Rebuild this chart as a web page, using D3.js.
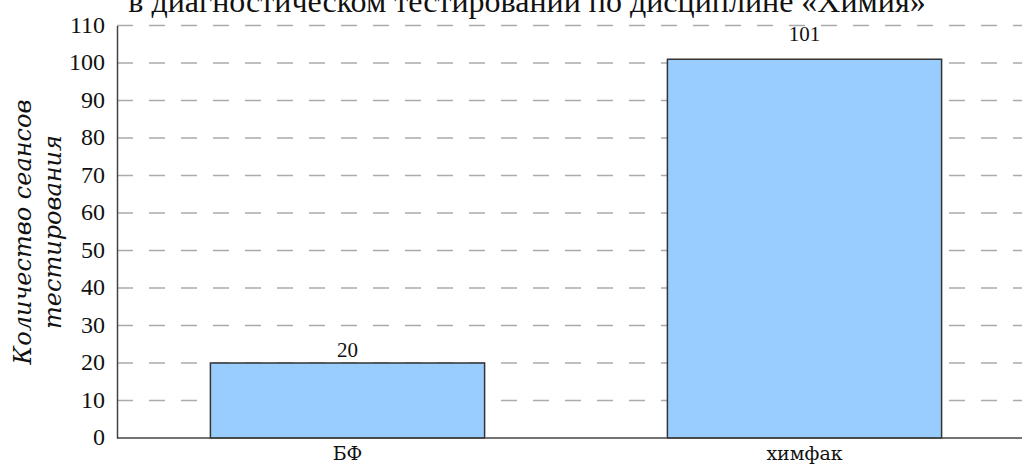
<!DOCTYPE html>
<html>
<head>
<meta charset="utf-8">
<script src="https://cdn.jsdelivr.net/npm/d3@7"></script>
<style>
  html, body { margin: 0; padding: 0; background: #fff; }
  svg { display: block; }
  text { font-family: "Liberation Serif", "DejaVu Serif", serif; fill: #111; }
</style>
</head>
<body>
<svg id="chart" width="1022" height="466"></svg>
<script>
const titleText = "в диагностическом тестировании по дисциплине «Химия»";
const yLabelLines = ["Количество сеансов", "тестирования"];
const categories = ["БФ", "химфак"];
const values = [20, 101];
const yTicks = [0, 10, 20, 30, 40, 50, 60, 70, 80, 90, 100, 110];

const svg = d3.select("#chart");
const W = 1022, H = 466;
const plotLeft = 117, plotBottom = 438, plotTop = 25.5;

const x = d3.scaleBand().domain(categories).range([119, 1033]).paddingInner(0.4).paddingOuter(0.2);
const y = d3.scaleLinear().domain([0, 110]).range([plotBottom, plotTop]);

// title (partly cut off at top, as in the reference)
svg.append("text")
  .attr("x", 527).attr("y", 12)
  .attr("text-anchor", "middle")
  .style("font-size", "32px")
  .text(titleText);

// grid lines
svg.append("g").selectAll("line").data(yTicks.filter(d => d > 0)).join("line")
  .attr("x1", plotLeft).attr("x2", W)
  .attr("y1", d => y(d)).attr("y2", d => y(d))
  .attr("stroke", "#aaa").attr("stroke-width", 1.5)
  .attr("stroke-dasharray", "16,16");

// bars
svg.append("g").selectAll("rect").data(categories).join("rect")
  .attr("x", d => x(d))
  .attr("y", (d, i) => y(values[i]))
  .attr("width", x.bandwidth())
  .attr("height", (d, i) => y(0) - y(values[i]))
  .attr("fill", "#99ccff")
  .attr("stroke", "#333")
  .attr("stroke-width", 1.5);

// value labels
svg.append("g").selectAll("text").data(categories).join("text")
  .attr("x", d => x(d) + x.bandwidth() / 2)
  .attr("y", (d, i) => y(values[i] * 1.04) - 3)
  .attr("text-anchor", "middle")
  .style("font-size", "21px")
  .text((d, i) => values[i]);

// y axis
const yAxis = d3.axisLeft(y).tickValues(yTicks).tickSize(0).tickPadding(12);
const gy = svg.append("g").attr("transform", `translate(${plotLeft},0)`).call(yAxis);
gy.select(".domain").attr("stroke", "#444").attr("stroke-width", 1.5);
gy.selectAll("text").style("font-size", "24px").style("font-family", "Liberation Serif").attr("fill", "#111").attr("dy", "0.28em");

// x axis
const xAxis = d3.axisBottom(x).tickSize(0).tickPadding(0);
const gx = svg.append("g").attr("transform", `translate(0,${plotBottom})`).call(xAxis);
gx.select(".domain").attr("d", `M${plotLeft},0H${W}`).attr("stroke", "#444").attr("stroke-width", 1.5);
gx.selectAll("text").style("font-size", "19px").style("font-family", "DejaVu Serif").attr("fill", "#111")
  .attr("y", 22).attr("dy", 0);

// y label
const yl = svg.append("text")
  .attr("transform", `translate(23,232) rotate(-90)`)
  .attr("text-anchor", "middle")
  .style("font-size", "24px")
  .style("font-family", "DejaVu Serif")
  .style("font-style", "italic");
yLabelLines.forEach((t, i) => {
  yl.append("tspan").attr("x", 0).attr("dy", i === 0 ? "0.35em" : "30px").text(t);
});
</script>
</body>
</html>
